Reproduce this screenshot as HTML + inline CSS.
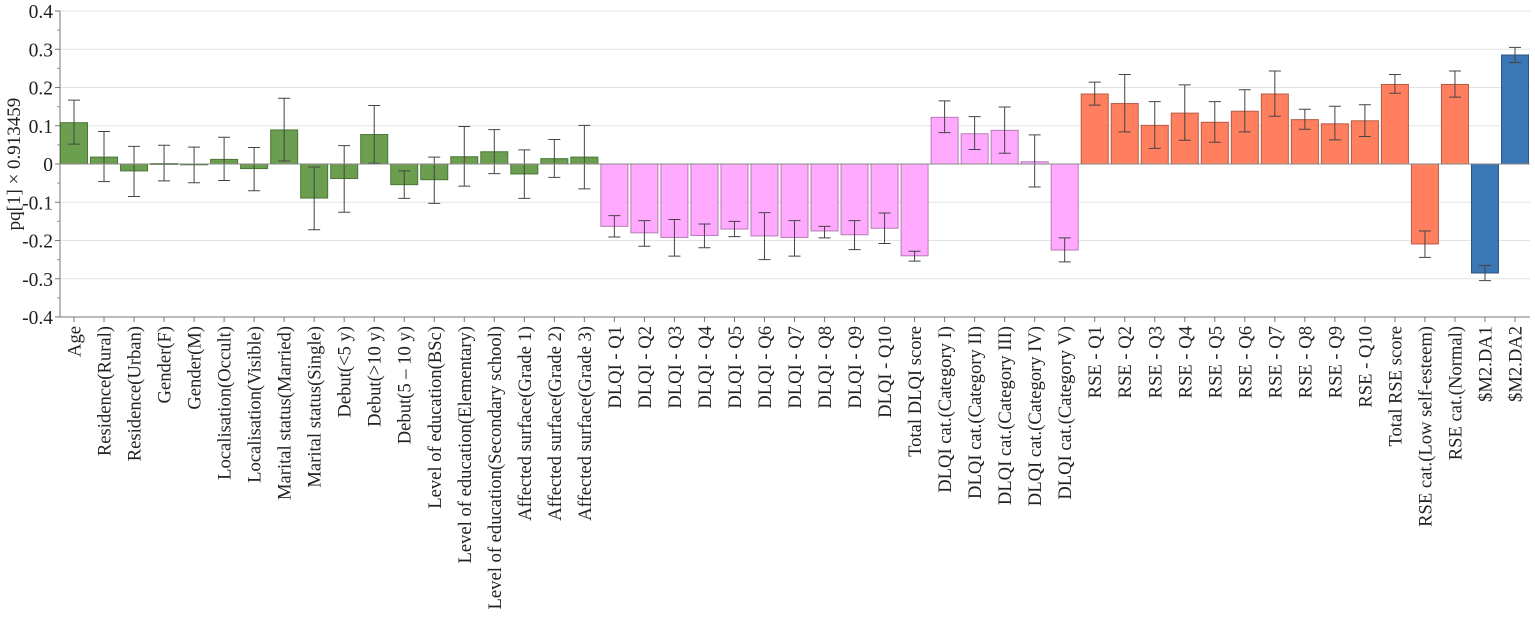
<!DOCTYPE html>
<html><head><meta charset="utf-8"><style>
body{margin:0;background:#fff}
svg{display:block;font-family:"Liberation Serif",serif}
</style></head><body>
<svg id="chart" width="1535" height="623" xmlns="http://www.w3.org/2000/svg"></svg>
<script>
const categories=["Age","Residence(Rural)","Residence(Urban)","Gender(F)","Gender(M)","Localisation(Occult)","Localisation(Visible)","Marital status(Married)","Marital status(Single)","Debut(<5 y)","Debut(>10 y)","Debut(5 – 10 y)","Level of education(BSc)","Level of education(Elementary)","Level of education(Secondary school)","Affected surface(Grade 1)","Affected surface(Grade 2)","Affected surface(Grade 3)","DLQI - Q1","DLQI - Q2","DLQI - Q3","DLQI - Q4","DLQI - Q5","DLQI - Q6","DLQI - Q7","DLQI - Q8","DLQI - Q9","DLQI - Q10","Total DLQI score","DLQI cat.(Category I)","DLQI cat.(Category II)","DLQI cat.(Category III)","DLQI cat.(Category IV)","DLQI cat.(Category V)","RSE - Q1","RSE - Q2","RSE - Q3","RSE - Q4","RSE - Q5","RSE - Q6","RSE - Q7","RSE - Q8","RSE - Q9","RSE - Q10","Total RSE score","RSE cat.(Low self-esteem)","RSE cat.(Normal)","$M2.DA1","$M2.DA2"];
const values=[0.108,0.018,-0.018,0.001,-0.002,0.012,-0.012,0.089,-0.089,-0.038,0.077,-0.054,-0.041,0.019,0.032,-0.026,0.014,0.018,-0.163,-0.180,-0.192,-0.187,-0.170,-0.188,-0.192,-0.175,-0.185,-0.168,-0.240,0.122,0.079,0.088,0.006,-0.225,0.183,0.158,0.101,0.133,0.109,0.138,0.183,0.116,0.105,0.113,0.208,-0.209,0.208,-0.285,0.285];
const errLow=[0.052,-0.046,-0.085,-0.044,-0.049,-0.043,-0.070,0.008,-0.172,-0.126,0.002,-0.090,-0.103,-0.058,-0.025,-0.090,-0.035,-0.065,-0.191,-0.215,-0.241,-0.219,-0.190,-0.250,-0.241,-0.193,-0.224,-0.208,-0.254,0.082,0.038,0.028,-0.060,-0.256,0.154,0.084,0.041,0.062,0.057,0.084,0.125,0.091,0.063,0.072,0.185,-0.244,0.175,-0.305,0.265];
const errHigh=[0.167,0.085,0.046,0.049,0.044,0.070,0.043,0.172,-0.008,0.048,0.153,-0.018,0.018,0.098,0.090,0.037,0.064,0.101,-0.135,-0.148,-0.145,-0.157,-0.150,-0.127,-0.148,-0.163,-0.148,-0.128,-0.228,0.165,0.124,0.149,0.076,-0.193,0.214,0.234,0.163,0.207,0.163,0.194,0.243,0.143,0.151,0.155,0.234,-0.175,0.243,-0.265,0.305];
const groups=[0,0,0,0,0,0,0,0,0,0,0,0,0,0,0,0,0,0,1,1,1,1,1,1,1,1,1,1,1,1,1,1,1,1,2,2,2,2,2,2,2,2,2,2,2,2,2,3,3];
const yTicks=[0.4,0.3,0.2,0.1,0,-0.1,-0.2,-0.3,-0.4];
const yTickLabels=["0.4","0.3","0.2","0.1","0","-0.1","-0.2","-0.3","-0.4"];

const fills=["#6b9e4f","#ffaaff","#ff7f5f","#3b77b5"];
const strokes=["#4a7634","#b57cb5","#b85a44","#2a5784"];
const NS="http://www.w3.org/2000/svg";
const svg=document.getElementById("chart");
const x0=60,x1=1530,yTop=11,yBot=317;
const y=v=>yTop+(0.4-v)/0.8*(yBot-yTop);
const n=values.length;
const step=(1515-74)/(n-1);
const xc=i=>74+i*step;
const bw=27;
function mk(tag,attrs){const e=document.createElementNS(NS,tag);for(const k in attrs)e.setAttribute(k,attrs[k]);svg.appendChild(e);return e;}

yTicks.forEach((t,i)=>{
  if(t!==0&&t!==-0.4){const g=mk("line",{x1:x0,x2:x1,y1:y(t),y2:y(t),stroke:"#e3e3e3","stroke-width":1});
  
  }
  const tk=mk("line",{x1:x0-5,x2:x0,y1:y(t),y2:y(t),stroke:"#777"});
  
  
  const tl=mk("text",{x:x0-7,y:y(t)+7,"text-anchor":"end","font-size":19.5,fill:"#222"});
  tl.textContent=yTickLabels[i];
  
  
  if(i<yTicks.length-1){const m=mk("line",{x1:x0-3,x2:x0,y1:y(t-0.05),y2:y(t-0.05),stroke:"#999"});
  
  }
});
const ya=mk("line",{x1:x0,x2:x0,y1:yTop,y2:yBot,stroke:"#777"});


const xa=mk("line",{x1:x0,x2:x1,y1:yBot,y2:yBot,stroke:"#777"});


const yt=mk("text",{transform:"translate(20,164) rotate(-90)","text-anchor":"middle","font-size":19,fill:"#222"});
yt.textContent="pq[1] × 0.913459";



values.forEach((v,i)=>{
  const cx=xc(i),g=groups[i];
  const top=Math.min(y(v),y(0)),h=Math.abs(y(v)-y(0));
  const r=mk("rect",{x:cx-bw/2,y:top,width:bw,height:Math.max(h,0.8),fill:fills[g],stroke:strokes[g],"stroke-width":1});
  
  
  const yl=y(errLow[i]),yh=y(errHigh[i]);
  const e=mk("path",{d:`M${cx},${yl}V${yh}M${cx-6},${yl}H${cx+6}M${cx-6},${yh}H${cx+6}`,stroke:"#444","stroke-width":1,fill:"none"});
  
  
  const tk=mk("line",{x1:cx,x2:cx,y1:yBot,y2:yBot+5,stroke:"#777"});
  
  
  const t=mk("text",{transform:`translate(${cx+6.5},${yBot+9}) rotate(-90)`,"text-anchor":"end","font-size":18.6,fill:"#222"});
  t.textContent=categories[i];
  
  
});
const zl=mk("line",{x1:x0,x2:x1,y1:y(0),y2:y(0),stroke:"#888","stroke-width":1});


</script>
</body></html>
